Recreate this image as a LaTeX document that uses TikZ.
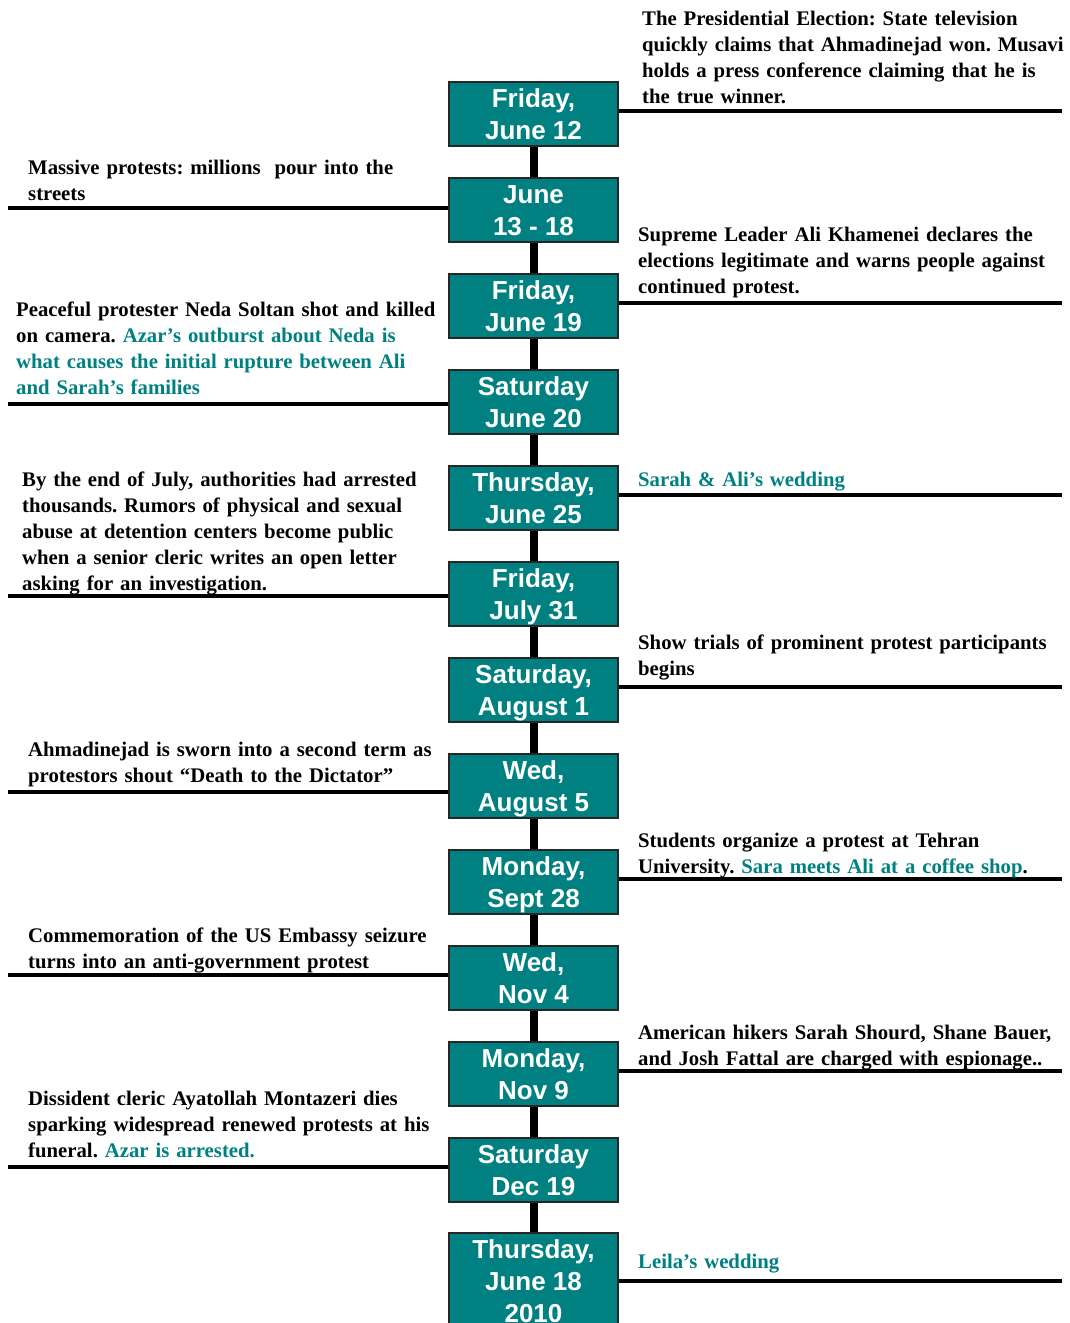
\documentclass[tikz,border=0pt]{standalone}
\usepackage{fontspec}
\setmainfont{Liberation Serif}
\newfontfamily\arialfont{Liberation Sans}
\definecolor{boxteal}{RGB}{0,128,128}
\definecolor{txtteal}{RGB}{0,128,128}
\newcommand{\hl}[1]{\textcolor{txtteal}{#1}}
\newcommand{\ds}{\rule[-7pt]{0pt}{32pt}}
\frenchspacing
\begin{document}
\begin{tikzpicture}[x=1pt,y=-1pt,
  datebox/.style={draw=black!85, line width=1.5pt, fill=boxteal, text=white,
    minimum width=169pt, minimum height=64pt, inner sep=0pt, align=center,
    font=\arialfont\bfseries\fontsize{26}{32}\selectfont},
  evt/.style={anchor=base west, inner sep=0pt, text width=480pt, align=left,
    font=\bfseries\fontsize{20.75}{26}\selectfont},
  spine/.style={line width=8pt},
  rulel/.style={line width=3.5pt}]
\useasboundingbox (0,0) rectangle (1069,1323);
\clip (0,0) rectangle (1069,1323);

% date boxes
\node[datebox] (b1) at (533.5,114) {\ds Friday,\\\ds June 12};
\node[datebox] (b2) at (533.5,210) {\ds June\\\ds 13 - 18};
\node[datebox] (b3) at (533.5,306) {\ds Friday,\\\ds June 19};
\node[datebox] (b4) at (533.5,402) {\ds Saturday\\\ds June 20};
\node[datebox] (b5) at (533.5,498) {\ds Thursday,\\\ds June 25};
\node[datebox] (b6) at (533.5,594) {\ds Friday,\\\ds July 31};
\node[datebox] (b7) at (533.5,690) {\ds Saturday,\\\ds August 1};
\node[datebox] (b8) at (533.5,786) {\ds Wed,\\\ds August 5};
\node[datebox] (b9) at (533.5,882) {\ds Monday,\\\ds Sept 28};
\node[datebox] (b10) at (533.5,978) {\ds Wed,\\\ds Nov 4};
\node[datebox] (b11) at (533.5,1074) {\ds Monday,\\\ds Nov 9};
\node[datebox] (b12) at (533.5,1170) {\ds Saturday\\\ds Dec 19};
\node[datebox, minimum height=94pt] (b13) at (533.5,1281) {\ds Thursday,\\\ds June 18\\\ds 2010};

% spine
\foreach \a/\b in {1/2,2/3,3/4,4/5,5/6,6/7,7/8,8/9,9/10,10/11,11/12,12/13}
  \draw[spine] (b\a.south) -- (b\b.north);

% line ends
\coordinate (r1) at (1062,111);
\coordinate (l2) at (8,208);
\coordinate (r3) at (1062,303);
\coordinate (l4) at (8,404);
\coordinate (r5) at (1062,495);
\coordinate (l6) at (8,596);
\coordinate (r7) at (1062,687);
\coordinate (l8) at (8,792);
\coordinate (r9) at (1062,879);
\coordinate (l10) at (8,975);
\coordinate (r11) at (1062,1071);
\coordinate (l12) at (8,1167);
\coordinate (r13) at (1062,1281);

\foreach \i in {1,3,5,7,9,11,13}
  \draw[rulel] (b\i.east |- r\i) -- (r\i);
\foreach \i in {2,4,6,8,10,12}
  \draw[rulel] (b\i.west |- l\i) -- (l\i);

% event texts
\node[evt] (t1) at (642,25) {The Presidential Election: State television\\quickly claims that Ahmadinejad won. Musavi\\holds a press conference claiming that he is\\the true winner.};
\node[evt] (t2) at (28,174) {Massive protests: millions\ \ pour into the\\streets};
\node[evt] (t3) at (638,241) {Supreme Leader Ali Khamenei declares the\\elections legitimate and warns people against\\continued protest.};
\node[evt] (t4) at (16,316) {Peaceful protester Neda Soltan shot and killed\\on camera. \hl{Azar’s outburst about Neda is}\\\hl{what causes the initial rupture between Ali}\\\hl{and Sarah’s families}};
\node[evt] (t5) at (638,486) {\hl{Sarah \& Ali’s wedding}};
\node[evt] (t6) at (22,486) {By the end of July, authorities had arrested\\thousands. Rumors of physical and sexual\\abuse at detention centers become public\\when a senior cleric writes an open letter\\asking for an investigation.};
\node[evt] (t7) at (638,649) {Show trials of prominent protest participants\\begins};
\node[evt] (t8) at (28,756) {Ahmadinejad is sworn into a second term as\\protestors shout “Death to the Dictator”};
\node[evt] (t9) at (638,847) {Students organize a protest at Tehran\\University. \hl{Sara meets Ali at a coffee shop}.};
\node[evt] (t10) at (28,942) {Commemoration of the US Embassy seizure\\turns into an anti-government protest};
\node[evt] (t11) at (638,1039) {American hikers Sarah Shourd, Shane Bauer,\\and Josh Fattal are charged with espionage..};
\node[evt] (t12) at (28,1105) {Dissident cleric Ayatollah Montazeri dies\\sparking widespread renewed protests at his\\funeral. \hl{Azar is arrested.}};
\node[evt] (t13) at (638,1268) {\hl{Leila’s wedding}};
\end{tikzpicture}
\end{document}
